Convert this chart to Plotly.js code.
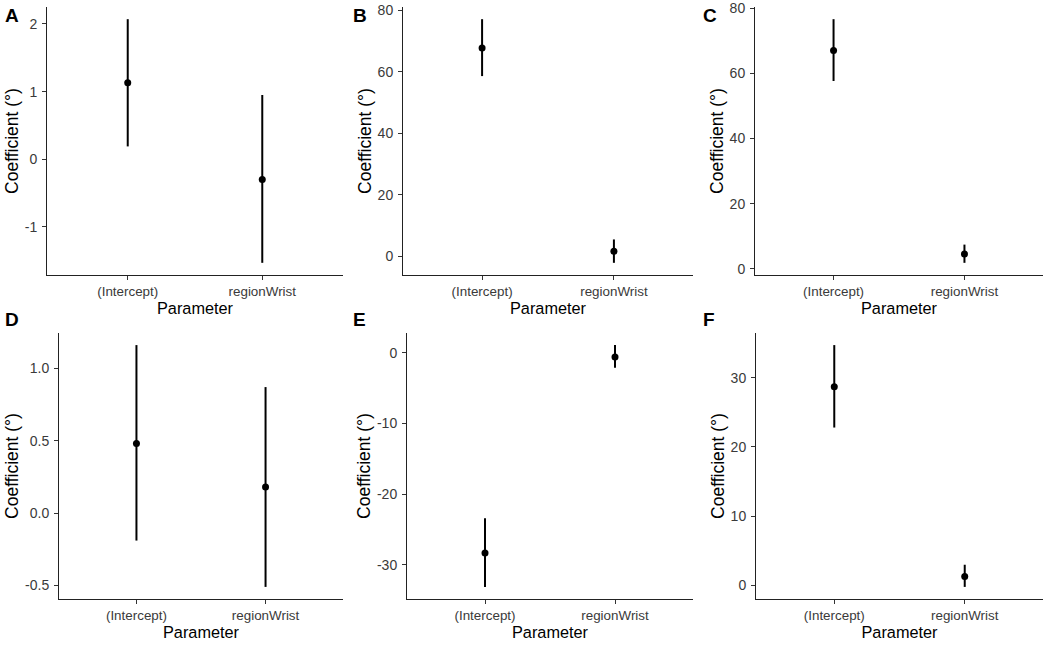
<!DOCTYPE html>
<html>
<head>
<meta charset="utf-8">
<script src="https://cdn.plot.ly/plotly-3.0.1.min.js"></script>
<style>html,body{margin:0;padding:0;background:#fff;}#chart{width:1053px;height:647px;}</style>
</head>
<body>
<div id="chart"></div>
<script>
// Categories
const params = ["(Intercept)", "regionWrist"];
const panelLabels = ["A", "B", "C", "D", "E", "F"];

// Estimates and confidence limits per panel
const estA = [1.13, -0.30], loA = [0.19, -1.53], hiA = [2.07, 0.95];
const estB = [67.7, 1.7],   loB = [58.6, -2.1],  hiB = [77.1, 5.5];
const estC = [67.1, 4.5],   loC = [57.7, 1.8],   hiC = [76.7, 7.4];
const estD = [0.48, 0.18],  loD = [-0.19, -0.51], hiD = [1.16, 0.87];
const estE = [-28.3, -0.6], loE = [-33.1, -2.1], hiE = [-23.4, 1.1];
const estF = [28.7, 1.3],   loF = [22.8, -0.2],  hiF = [34.7, 3.0];

// Tick values per panel
const ticksA = [-1, 0, 1, 2];
const ticksB = [0, 20, 40, 60, 80];
const ticksC = [0, 20, 40, 60, 80];
const ticksD = [-0.5, 0.0, 0.5, 1.0];
const ticksE = [-30, -20, -10, 0];
const ticksF = [0, 10, 20, 30];
const tickDecimals = [0, 0, 0, 1, 0, 0];

const panels = [
  {est: estA, lo: loA, hi: hiA, ticks: ticksA},
  {est: estB, lo: loB, hi: hiB, ticks: ticksB},
  {est: estC, lo: loC, hi: hiC, ticks: ticksC},
  {est: estD, lo: loD, hi: hiD, ticks: ticksD},
  {est: estE, lo: loE, hi: hiE, ticks: ticksE},
  {est: estF, lo: loF, hi: hiF, ticks: ticksF}
];

// Pixel boxes of each plotting area [left, right, top, bottom]
const W = 1053, H = 647;
const boxes = [
  [47, 343, 7, 275],
  [403, 693, 7, 275],
  [755, 1043, 7, 275],
  [59, 343, 333, 599],
  [407, 693, 333, 599],
  [756, 1043, 333, 599]
];
const letterPos = [[3, 3], [351, 3], [701, 3], [3, 307], [351, 307], [701, 307]];
const titleStandoffY = [1, 1, 1, 1, 1, 1];

const FONT = "Liberation Sans, Arial, Helvetica, sans-serif";
const data = [];
const layout = {
  width: W, height: H, autosize: false,
  margin: {l: 0, r: 0, t: 0, b: 0, pad: 0},
  paper_bgcolor: "#ffffff", plot_bgcolor: "#ffffff",
  showlegend: false,
  font: {family: FONT, color: "#000"},
  annotations: []
};

panels.forEach((p, i) => {
  const n = i === 0 ? "" : String(i + 1);
  const b = boxes[i];
  data.push({
    type: "scatter", mode: "markers",
    x: params, y: p.est,
    xaxis: "x" + n, yaxis: "y" + n,
    marker: {color: "#000", size: 7},
    error_y: {
      type: "data", symmetric: false,
      array: p.hi.map((h, k) => h - p.est[k]),
      arrayminus: p.est.map((e, k) => e - p.lo[k]),
      width: 0, thickness: 2, color: "#000"
    },
    hoverinfo: "x+y"
  });
  const allv = p.lo.concat(p.hi);
  const mn = Math.min(...allv), mx = Math.max(...allv);
  const pad = (mx - mn) * 0.05;
  layout["xaxis" + n] = {
    domain: [b[0] / W, b[1] / W],
    anchor: "y" + n,
    type: "category",
    range: [-0.6, 1.6],
    showgrid: false, zeroline: false,
    showline: true, linecolor: "#222", linewidth: 1,
    ticks: "outside", ticklen: 4, tickwidth: 1, tickcolor: "#333",
    tickfont: {family: FONT, size: 13.4, color: "#3a3a3a"},
    ticklabelstandoff: 0,
    title: {text: "Parameter", font: {family: FONT, size: 16.3, color: "#000"}, standoff: 2},
    fixedrange: true
  };
  layout["yaxis" + n] = {
    domain: [1 - b[3] / H, 1 - b[2] / H],
    anchor: "x" + n,
    range: [mn - pad, mx + pad],
    tickmode: "array",
    tickvals: p.ticks,
    ticktext: p.ticks.map(v => v.toFixed(tickDecimals[i])),
    showgrid: false, zeroline: false,
    showline: true, linecolor: "#222", linewidth: 1,
    ticks: "outside", ticklen: 4, tickwidth: 1, tickcolor: "#333",
    tickfont: {family: FONT, size: 14, color: "#3a3a3a"},
    ticklabelstandoff: 2,
    title: {text: "Coefficient (°)", font: {family: FONT, size: 17.5, color: "#000"}, standoff: titleStandoffY[i]},
    fixedrange: true
  };
  layout.annotations.push({
    text: "<b>" + panelLabels[i] + "</b>",
    xref: "paper", yref: "paper",
    x: letterPos[i][0] / W, y: 1 - letterPos[i][1] / H,
    xanchor: "left", yanchor: "top",
    showarrow: false,
    font: {family: FONT, size: 19, color: "#000"}
  });
});

Plotly.newPlot("chart", data, layout, {displayModeBar: false, staticPlot: true});
</script>
</body>
</html>
